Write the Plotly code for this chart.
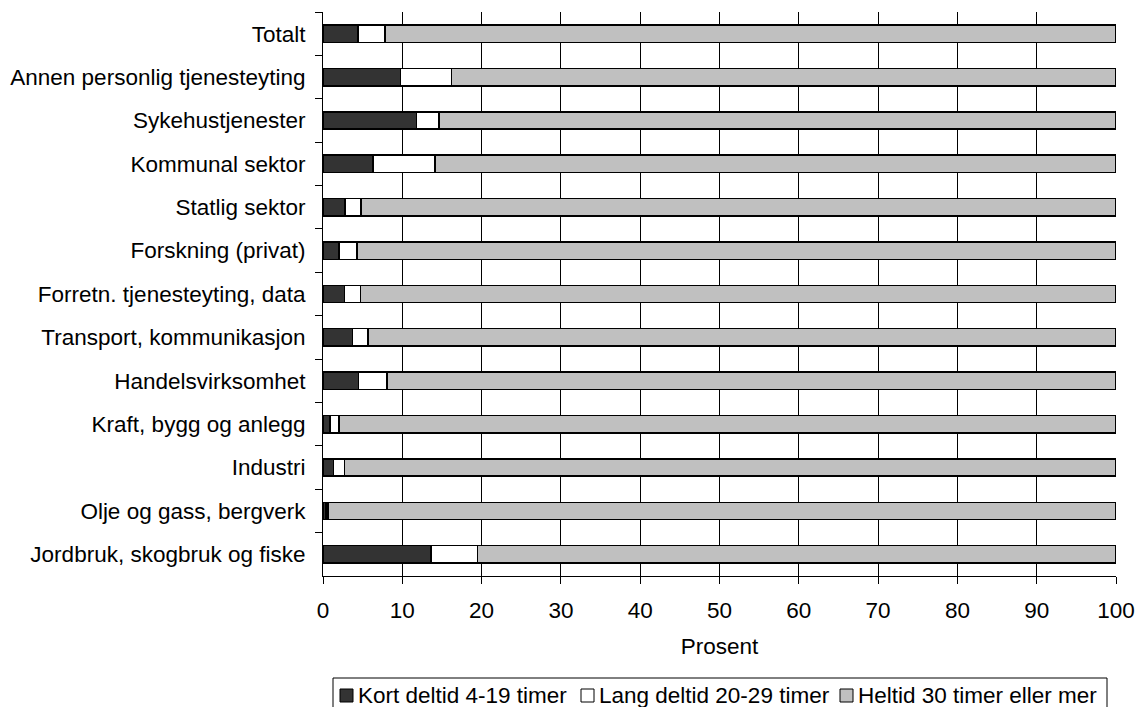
import plotly.graph_objects as go

categories = [
    "Totalt",
    "Annen personlig tjenesteyting",
    "Sykehustjenester",
    "Kommunal sektor",
    "Statlig sektor",
    "Forskning (privat)",
    "Forretn. tjenesteyting, data",
    "Transport, kommunikasjon",
    "Handelsvirksomhet",
    "Kraft, bygg og anlegg",
    "Industri",
    "Olje og gass, bergverk",
    "Jordbruk, skogbruk og fiske",
]
kort_deltid = [4.4, 9.8, 11.8, 6.3, 2.8, 2.0, 2.7, 3.7, 4.5, 0.9, 1.3, 0.35, 13.6]
lang_deltid = [3.4, 6.4, 2.8, 7.8, 2.0, 2.3, 2.0, 2.0, 3.6, 1.1, 1.4, 0.3, 5.9]
heltid = [92.2, 83.8, 85.4, 85.9, 95.2, 95.7, 95.3, 94.3, 91.9, 98.0, 97.3, 99.35, 80.5]

series_names = ["Kort deltid 4-19 timer", "Lang deltid 20-29 timer", "Heltid 30 timer eller mer"]
series_colors = ["#333333", "#FFFFFF", "#C0C0C0"]
x_ticks = [0, 10, 20, 30, 40, 50, 60, 70, 80, 90, 100]

FONT = "Liberation Sans, Arial, sans-serif"
FS = 22.5

W, H = 1138, 707
ML, MR, MT, MB = 323, 22, 12, 131
PW, PH = W - ML - MR, H - MT - MB


def px(x):
    return (x - ML) / PW


def py(y):
    return (H - MB - y) / PH


fig = go.Figure()
for name, vals, col in zip(series_names, [kort_deltid, lang_deltid, heltid], series_colors):
    fig.add_trace(go.Bar(
        y=categories, x=vals, name=name, orientation="h",
        marker=dict(color=col, line=dict(color="black", width=1.5)),
        showlegend=False,
    ))

# manual legend (box, swatches, labels)
shapes = [dict(type="rect", xref="paper", yref="paper",
               x0=px(333), x1=px(1107), y0=py(709), y1=py(678),
               line=dict(color="black", width=1), fillcolor="white", layer="above")]
annotations = []
swatch_x = [340, 581, 840]
for sx, name, col in zip(swatch_x, series_names, series_colors):
    shapes.append(dict(type="rect", xref="paper", yref="paper",
                       x0=px(sx), x1=px(sx + 13), y0=py(702), y1=py(689),
                       line=dict(color="black", width=1), fillcolor=col, layer="above"))
    annotations.append(dict(xref="paper", yref="paper", x=px(sx + 16), y=py(695.5),
                            text=name, showarrow=False, xanchor="left", yanchor="middle",
                            font=dict(family=FONT, size=FS, color="black")))

fig.update_layout(
    width=W, height=H, autosize=False,
    barmode="stack", bargap=0.6,
    plot_bgcolor="white", paper_bgcolor="white",
    margin=dict(l=ML, r=MR, t=MT, b=MB, pad=0, autoexpand=False),
    font=dict(family=FONT, size=FS, color="black"),
    shapes=shapes, annotations=annotations,
    xaxis=dict(
        range=[0, 100], tickvals=x_ticks, ticks="outside", ticklen=7, tickcolor="black",
        showgrid=True, gridcolor="black", gridwidth=1,
        showline=True, linecolor="black", linewidth=1, zeroline=False,
        automargin=False, ticklabelstandoff=7,
        title=dict(text="Prosent", standoff=16, font=dict(family=FONT, size=FS)),
        tickfont=dict(family=FONT, size=FS),
    ),
    yaxis=dict(
        type="category", categoryorder="array", categoryarray=categories,
        autorange="reversed", tickson="boundaries", ticks="outside", ticklen=7,
        tickcolor="black", showgrid=False, showline=True, linecolor="black", linewidth=1,
        automargin=False, ticklabelstandoff=12, tickfont=dict(family=FONT, size=FS),
    ),
)

fig.write_html(
    "out.html",
    config={"displayModeBar": False},
    post_script="document.body.style.margin='0';document.body.style.overflow='hidden';",
)
